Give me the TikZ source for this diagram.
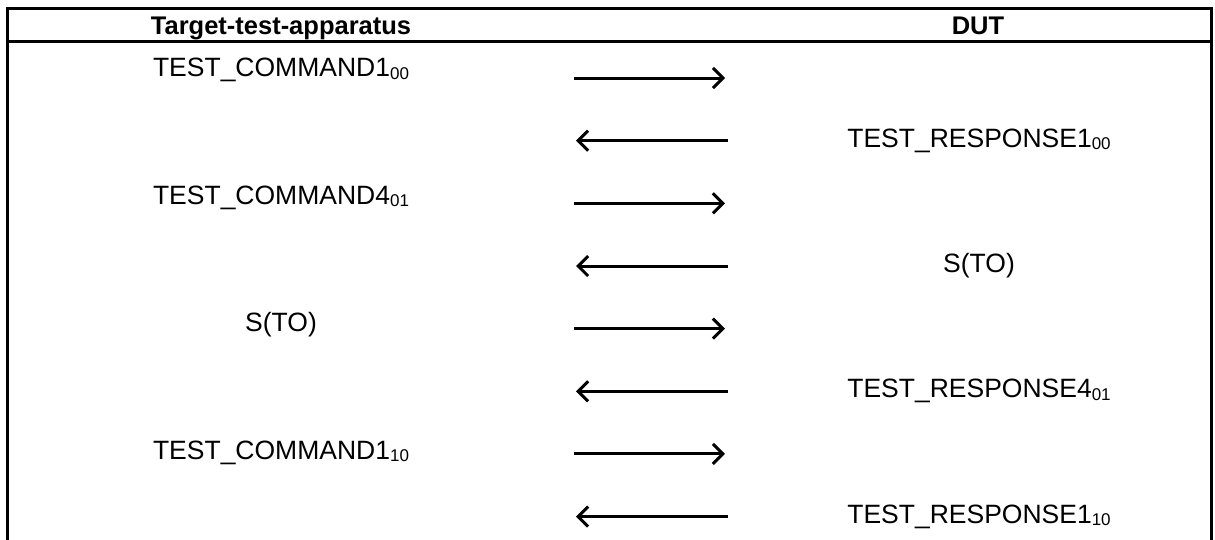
\documentclass[tikz,border=0pt]{standalone}
\usepackage{fontspec}
\setmainfont{Liberation Sans}
\usetikzlibrary{arrows.meta}
\newcommand\subtxt[1]{\raisebox{-2.5pt}{\fontsize{17}{17}\selectfont #1}}
\tikzset{
  frame/.style={line width=2.7pt},
  msg/.style={line width=3pt,-{Straight Barb[length=10pt,width=20pt,line width=3pt]}},
  lbl/.style={anchor=base,inner sep=0pt,font=\fontsize{26.5}{30}\selectfont},
  hdr/.style={anchor=base,inner sep=0pt,font=\fontsize{25.5}{30}\selectfont\bfseries},
}
\begin{document}
\begin{tikzpicture}[x=1pt,y=-1pt]
\useasboundingbox (0,0) rectangle (1215,539);
% frame
\coordinate (bl) at (7.5,540);
\coordinate (tl) at (7.5,8.3);
\coordinate (tr) at (1211.5,8.3);
\coordinate (br) at (1211.5,540);
\coordinate (hl) at (7.5,41.7);
\coordinate (hr) at (1211.5,41.7);
\draw[frame] (bl) -- (tl) -- (tr) -- (br);
\draw[frame] (hl) -- (hr);
% headers
\node[hdr] (h1) at (281,34) {Target-test-apparatus};
\node[hdr] (h2) at (978,34) {DUT};
% labels
\node[lbl] (l1) at (281,76.5) {TEST\_COMMAND1\subtxt{00}};
\node[lbl] (r2) at (979,147) {TEST\_RESPONSE1\subtxt{00}};
\node[lbl] (l3) at (281,204) {TEST\_COMMAND4\subtxt{01}};
\node[lbl] (r4) at (979,272.5) {S(TO)};
\node[lbl] (l5) at (281,331.5) {S(TO)};
\node[lbl] (r6) at (979,397.5) {TEST\_RESPONSE4\subtxt{01}};
\node[lbl] (l7) at (281,459) {TEST\_COMMAND1\subtxt{10}};
\node[lbl] (r8) at (979,523) {TEST\_RESPONSE1\subtxt{10}};
% arrow end points
\foreach \k/\y in {1/78,3/203.3,5/328.6,7/453.9}{
  \coordinate (a\k s) at (574,\y);
  \coordinate (a\k e) at (725,\y);
}
\foreach \k/\y in {2/140.65,4/266,6/391.25,8/516.5}{
  \coordinate (a\k s) at (728,\y);
  \coordinate (a\k e) at (576,\y);
}
\foreach \k in {1,...,8}{
  \draw[msg] (a\k s) -- (a\k e);
}
\end{tikzpicture}
\end{document}
